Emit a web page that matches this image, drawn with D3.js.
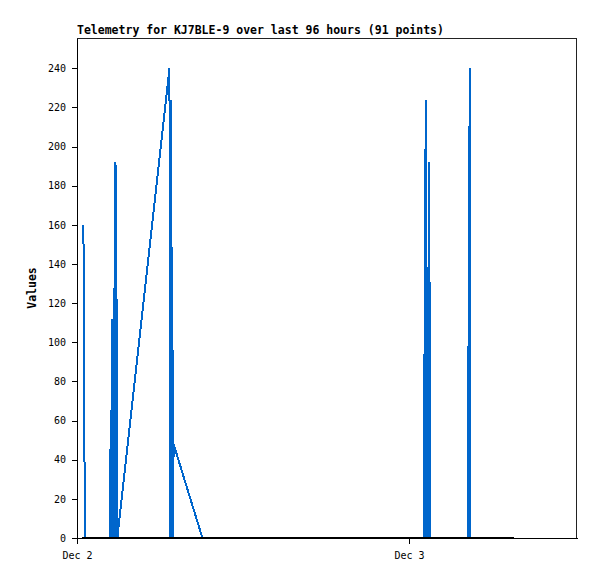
<!DOCTYPE html>
<html><head><meta charset="utf-8">
<script src="https://cdn.jsdelivr.net/npm/d3@7"></script>
<style>body{margin:0;background:#fff}svg{display:block}</style>
</head><body><svg id="c" width="597" height="579"></svg>
<script>
// ---- data ----
const title = "Telemetry for KJ7BLE-9 over last 96 hours (91 points)";
const yLabel = "Values";
const times = [
  "2023-12-02 00:28","2023-12-02 00:30","2023-12-02 00:35",
  "2023-12-02 02:23","2023-12-02 02:26","2023-12-02 02:28","2023-12-02 02:31",
  "2023-12-02 02:34","2023-12-02 02:37","2023-12-02 02:40","2023-12-02 02:42",
  "2023-12-02 02:44","2023-12-02 02:47","2023-12-02 02:53","2023-12-02 02:55",
  "2023-12-02 06:41","2023-12-02 06:43","2023-12-02 06:45","2023-12-02 06:49",
  "2023-12-02 06:52","2023-12-02 06:55","2023-12-02 06:57","2023-12-02 06:59",
  "2023-12-02 09:04",
  "2023-12-03 01:05","2023-12-03 01:08","2023-12-03 01:13","2023-12-03 01:16",
  "2023-12-03 01:22","2023-12-03 01:26","2023-12-03 01:31","2023-12-03 01:33",
  "2023-12-03 04:16","2023-12-03 04:19","2023-12-03 04:24","2023-12-03 04:27",
  "2023-12-03 07:35"
];
const values = [
  160, 80, 0,
  0, 56, 0, 112,
  0, 64, 0, 128,
  0, 192, 96, 0,
  240, 120, 0, 224,
  0, 96, 0, 48,
  0,
  0, 112, 224, 0,
  0, 192, 96, 0,
  0, 120, 240, 0,
  0
];
const baseTimes = ["2023-12-02 00:23","2023-12-03 07:35"];
const baseValues = [0, 0];
const xDomain = ["2023-12-02 00:00","2023-12-03 12:09"];
const xTickDates = ["2023-12-02 00:00","2023-12-03 00:00"];
const yMax = 255.5;
const yTicks = [0,20,40,60,80,100,120,140,160,180,200,220,240];

// ---- chart ----
const parse = d3.timeParse("%Y-%m-%d %H:%M");
const svg = d3.select("#c");
const L = 77, R = 577, T = 38, B = 538;

const x = d3.scaleTime().domain(xDomain.map(parse)).range([L, R]);
const y = d3.scaleLinear().domain([0, yMax]).range([B, T]);

svg.append("rect").attr("width",597).attr("height",579).attr("fill","#fff");

const series = times.map((t,i)=>({t:parse(t), v:values[i]}));
const base = baseTimes.map((t,i)=>({t:parse(t), v:baseValues[i]}));
const line = d3.line().x(d=>x(d.t)).y(d=>y(d.v));

// frame
svg.append("rect").attr("x",L+0.5).attr("y",T+0.5).attr("width",R-L-1).attr("height",B-T)
  .attr("fill","none").attr("stroke","#222").attr("stroke-width",1).attr("shape-rendering","crispEdges");

svg.append("path").datum(series).attr("d",line)
  .attr("fill","none").attr("stroke","#0066cc").attr("stroke-width",2)
  .attr("stroke-linejoin","bevel").attr("shape-rendering","crispEdges");

svg.append("path").datum(base).attr("d",line)
  .attr("fill","none").attr("stroke","#000").attr("stroke-width",2.5)
  .attr("shape-rendering","crispEdges");

// axes
const yAxis = d3.axisLeft(y).tickValues(yTicks).tickSize(5).tickSizeOuter(0).tickPadding(6).tickFormat(d3.format("d"));
const gy = svg.append("g").attr("transform",`translate(${L},0)`).call(yAxis);
const xAxis = d3.axisBottom(x).tickValues(xTickDates.map(parse)).tickSize(6).tickSizeOuter(0).tickPadding(8)
  .tickFormat(d3.timeFormat("%b %-d"));
const gx = svg.append("g").attr("transform",`translate(0,${B})`).call(xAxis);
[gx, gy].forEach(g=>{
  g.select(".domain").attr("stroke","#000").attr("shape-rendering","crispEdges");
  g.selectAll(".tick line").attr("stroke","#000").attr("shape-rendering","crispEdges");
  g.selectAll("text").attr("font-family","DejaVu Sans Mono").attr("font-size","10px").attr("fill","#000");
});

svg.append("text").attr("x",L).attr("y",34).text(title)
  .attr("font-family","DejaVu Sans Mono").attr("font-weight","bold").attr("font-size","11.5px").attr("fill","#000");
svg.append("text").attr("transform",`translate(36,${(T+B)/2}) rotate(-90)`).attr("text-anchor","middle")
  .text(yLabel).attr("font-family","DejaVu Sans Mono").attr("font-weight","bold").attr("font-size","11.5px").attr("fill","#000");
</script></body></html>
